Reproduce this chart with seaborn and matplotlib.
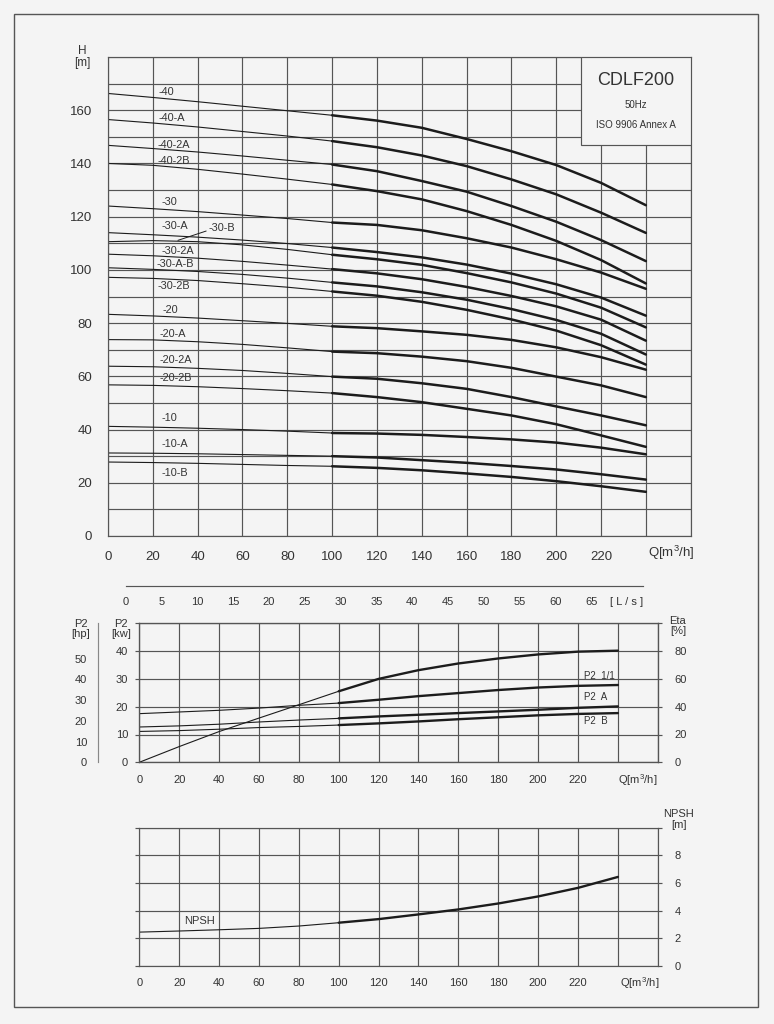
import numpy as np
import pandas as pd
import matplotlib
matplotlib.use("Agg")
import matplotlib.pyplot as plt
import seaborn as sns
from matplotlib.patches import Rectangle

# flow points (m3/h) shared by all curves; thin part 0-100, thick part 100-240
q_flow = [0, 20, 40, 60, 80, 100, 120, 140, 160, 180, 200, 220, 240]

# head curves H [m]
h40 = [166.3, 164.8, 163.2, 161.5, 159.8, 158.1, 156.1, 153.4, 149.2, 144.6, 139.4, 132.7, 124.3]
h40a = [156.5, 155.2, 153.7, 152.0, 150.3, 148.4, 146.1, 143.0, 139.0, 134.0, 128.4, 121.5, 113.9]
h40_2a = [146.8, 145.6, 144.3, 142.8, 141.2, 139.6, 137.1, 133.4, 129.4, 124.0, 118.1, 111.2, 103.3]
h40_2b = [140.0, 139.3, 137.8, 136.0, 134.1, 132.1, 129.6, 126.5, 122.1, 116.9, 110.9, 103.7, 94.9]
h30 = [124.0, 123.0, 121.9, 120.6, 119.3, 117.8, 116.9, 114.9, 111.9, 108.4, 104.0, 99.0, 92.9]
h30a = [114.0, 113.2, 112.3, 111.2, 109.9, 108.4, 106.7, 104.7, 102.0, 98.6, 94.6, 89.6, 82.8]
h30b = [110.6, 111.0, 110.6, 109.4, 107.7, 105.7, 104.0, 101.9, 98.8, 95.3, 91.1, 85.8, 78.4]
h30_2a = [105.9, 105.3, 104.4, 103.2, 101.8, 100.3, 98.7, 96.5, 93.6, 90.2, 86.3, 81.3, 73.4]
h30ab = [100.8, 100.2, 99.4, 98.3, 96.9, 95.3, 93.8, 91.6, 88.8, 85.3, 81.2, 76.0, 68.2]
h30_2b = [97.2, 96.8, 96.0, 94.8, 93.5, 91.9, 90.3, 88.0, 85.0, 81.4, 77.2, 71.7, 64.4]
h20 = [83.3, 82.7, 81.9, 80.9, 79.9, 78.8, 78.1, 76.9, 75.6, 73.7, 70.9, 67.2, 62.5]
h20a = [73.8, 73.7, 73.0, 72.0, 70.7, 69.3, 68.7, 67.4, 65.7, 63.2, 59.9, 56.6, 52.2]
h20_2a = [63.8, 63.6, 63.0, 62.2, 61.1, 59.9, 59.1, 57.4, 55.3, 52.2, 48.7, 45.3, 41.6]
h20_2b = [56.8, 56.6, 56.1, 55.4, 54.6, 53.7, 52.2, 50.3, 47.8, 45.3, 42.0, 37.8, 33.5]
h10 = [41.2, 40.9, 40.5, 40.0, 39.4, 38.7, 38.5, 38.0, 37.2, 36.3, 35.1, 33.2, 30.7]
h10a = [31.2, 31.1, 30.9, 30.6, 30.3, 30.0, 29.5, 28.5, 27.5, 26.3, 25.0, 23.2, 21.2]
h10b = [27.8, 27.6, 27.3, 26.9, 26.5, 26.2, 25.6, 24.7, 23.5, 22.2, 20.6, 18.7, 16.6]

head_curves = [h40, h40a, h40_2a, h40_2b, h30, h30a, h30b, h30_2a, h30ab, h30_2b,
               h20, h20a, h20_2a, h20_2b, h10, h10a, h10b]
head_names = ["-40", "-40-A", "-40-2A", "-40-2B", "-30", "-30-A", "-30-B", "-30-2A",
              "-30-A-B", "-30-2B", "-20", "-20-A", "-20-2A", "-20-2B", "-10", "-10-A", "-10-B"]

# power P2 [kW] and efficiency [%]
p2_full = [17.5, 18.1, 18.7, 19.5, 20.5, 21.3, 22.5, 23.8, 24.9, 26.0, 26.9, 27.5, 27.8]
p2_a = [12.7, 13.1, 13.7, 14.5, 15.2, 15.8, 16.5, 17.1, 17.7, 18.3, 18.9, 19.6, 20.1]
p2_b = [11.1, 11.4, 11.9, 12.5, 12.9, 13.4, 14.0, 14.7, 15.5, 16.2, 16.9, 17.4, 17.7]
eta = [0.0, 11.3, 22.1, 31.8, 41.4, 51.1, 60.0, 66.3, 71.1, 74.7, 77.6, 79.6, 80.3]
power_names = ["P2  1/1", "P2  A", "P2  B"]

# NPSH [m]
npsh = [2.45, 2.53, 2.62, 2.72, 2.89, 3.13, 3.39, 3.73, 4.09, 4.52, 5.03, 5.65, 6.44]

BG = "#f4f4f4"
INK = "#1c1c1c"
GRID = "#555555"
TXT = "#333333"
W, H = 774, 1024

sns.set_theme(style="white")
plt.rcParams["font.family"] = ["Liberation Sans", "DejaVu Sans"]
plt.rcParams["mathtext.fontset"] = "custom"
plt.rcParams["mathtext.rm"] = "Liberation Sans"

fig = plt.figure(figsize=(W / 100, H / 100), dpi=100, facecolor=BG)


def fx(px):
    return px / W


def fy(py):
    return 1 - py / H


def draw_curve(ax, values, thin=0.8, thick=1.8):
    lo = pd.DataFrame({"Q": q_flow[:6], "v": values[:6]})
    hi = pd.DataFrame({"Q": q_flow[5:], "v": values[5:]})
    sns.lineplot(data=lo, x="Q", y="v", ax=ax, color=INK, lw=thin, legend=False)
    sns.lineplot(data=hi, x="Q", y="v", ax=ax, color=INK, lw=thick, legend=False)


def style_grid(ax, xmax, ymax, ystep, lab_step, ylab_max, fs, ticklen=4):
    ax.set_facecolor(BG)
    ax.set_xlim(0, xmax)
    ax.set_ylim(0, ymax)
    xt = list(range(0, xmax + 1, 20))
    ax.set_xticks(xt, [str(v) if v <= 220 else "" for v in xt])
    yt = list(np.arange(0, ymax + 0.001, ystep))
    ax.set_yticks(yt, [f"{v:g}" if (v <= ylab_max and round(v / lab_step, 6) % 1 == 0)
                       else "" for v in yt])
    ax.grid(True, color=GRID, lw=0.85)
    ax.set_axisbelow(True)
    for s in ax.spines.values():
        s.set_color(GRID)
        s.set_linewidth(0.85)
    ax.tick_params(direction="out", length=ticklen, width=0.85, color=GRID,
                   labelsize=fs, labelcolor=TXT)
    ax.set_xlabel("")
    ax.set_ylabel("")


# ---------------- head chart ----------------
ax_h = fig.add_axes([fx(108), fy(536), fx(690.7) - fx(108), fy(57) - fy(536)])
for vals in head_curves:
    draw_curve(ax_h, vals)
style_grid(ax_h, 260, 180, 10, 20, 160, 9.5, ticklen=4.5)
ax_h.tick_params(axis="x", pad=6)
ax_h.tick_params(axis="y", pad=7)

label_pos = [(22.5, 166.9), (22.5, 156.9), (22.0, 147.1), (22.0, 140.9), (24.0, 125.5),
             (24.0, 116.5), (44.8, 115.7), (24.0, 107.2), (21.7, 102.2), (22.0, 94.0),
             (24.4, 85.0), (22.9, 75.9), (22.9, 66.2), (22.9, 59.3), (24.0, 44.5),
             (24.0, 34.7), (24.0, 23.7)]
for name, (lx, ly) in zip(head_names, label_pos):
    ax_h.text(lx, ly, name, fontsize=7.8, color=TXT, ha="left", va="center")
ax_h.plot([31.2, 43.8], [111.1, 114.6], color=INK, lw=0.7)

ax_h.add_patch(Rectangle((211, 146.9), 49, 33.1, facecolor=BG, edgecolor=GRID,
                         lw=0.85, zorder=5))
ax_h.text(235.6, 171.1, "CDLF200", fontsize=13, color=TXT, ha="center", va="center", zorder=6)
ax_h.text(235.6, 162.1, "50Hz", fontsize=7, color=TXT, ha="center", va="center", zorder=6)
ax_h.text(235.6, 154.4, "ISO 9906 Annex A", fontsize=7, color=TXT, ha="center",
          va="center", zorder=6)

fig.text(fx(82), fy(57), "H\n[m]", fontsize=8.5, color=TXT, ha="center", va="center",
         linespacing=1.1)
fig.text(fx(648), fy(553), "Q[m$^3$/h]", fontsize=9.5, color=TXT, ha="left", va="center")

# ---------------- L/s scale ----------------
ax_ls = fig.add_axes([fx(125.7), fy(585.7), fx(643.3) - fx(125.7), 0.0001])
ax_ls.set_facecolor("none")
ax_ls.set_xlim(0, (643.3 - 125.7) / 7.16)
ls_ticks = list(range(0, 71, 5))
ax_ls.set_xticks(ls_ticks, [str(v) for v in ls_ticks[:-1]] + ["[ L / s ]"])
ax_ls.set_yticks([])
for side in ["left", "right", "top"]:
    ax_ls.spines[side].set_visible(False)
ax_ls.spines["bottom"].set_color(GRID)
ax_ls.spines["bottom"].set_linewidth(0.85)
ax_ls.tick_params(axis="x", direction="out", length=3, width=0.85, color=GRID,
                  labelsize=8, labelcolor=TXT, pad=5)

# ---------------- power / efficiency chart ----------------
ax_p = fig.add_axes([fx(139.3), fy(762.3), fx(657.8) - fx(139.3), fy(623.3) - fy(762.3)])
for vals in [p2_full, p2_a, p2_b]:
    draw_curve(ax_p, vals, thick=1.7)
style_grid(ax_p, 260, 50, 10, 10, 40, 8, ticklen=3)
ax_p.tick_params(axis="x", pad=6)
ax_p.tick_params(axis="y", pad=5)
for name, ly in zip(power_names, [31.0, 23.5, 14.7]):
    ax_p.text(223, ly, name, fontsize=7, color=TXT, ha="left", va="center")

ax_e = ax_p.twinx()
draw_curve(ax_e, eta, thick=1.7)
ax_e.set_ylim(0, 100)
ax_e.set_yticks(list(range(0, 101, 20)), [str(v) for v in range(0, 81, 20)] + [""])
ax_e.set_ylabel("")
ax_e.set_xlabel("")
for s in ax_e.spines.values():
    s.set_color(GRID)
    s.set_linewidth(0.85)
ax_e.tick_params(direction="out", length=3, width=0.85, color=GRID, labelsize=8,
                 labelcolor=TXT, pad=9)

ax_hp = fig.add_axes([fx(98.3), fy(762.3), 0.0001, fy(623.3) - fy(762.3)])
ax_hp.set_facecolor("none")
ax_hp.set_ylim(0, 50 / 0.7457)
ax_hp.set_yticks(list(range(0, 51, 10)))
ax_hp.set_xticks([])
for side in ["right", "top", "bottom"]:
    ax_hp.spines[side].set_visible(False)
ax_hp.spines["left"].set_color("#888888")
ax_hp.spines["left"].set_linewidth(0.85)
ax_hp.tick_params(axis="y", direction="out", length=4, width=0.85, color="#888888",
                  labelsize=8, labelcolor=TXT, pad=4)

fig.text(fx(81), fy(629), "P2\n[hp]", fontsize=8, color=TXT, ha="center", va="center",
         linespacing=1.1)
fig.text(fx(121), fy(629), "P2\n[kw]", fontsize=8, color=TXT, ha="center", va="center",
         linespacing=1.1)
fig.text(fx(678), fy(626), "Eta\n[%]", fontsize=8, color=TXT, ha="center", va="center",
         linespacing=1.1)
fig.text(fx(618), fy(780), "Q[m$^3$/h]", fontsize=8, color=TXT, ha="left", va="center")

# ---------------- NPSH chart ----------------
ax_n = fig.add_axes([fx(139.3), fy(966), fx(657.8) - fx(139.3), fy(827.7) - fy(966)])
draw_curve(ax_n, npsh, thick=1.7)
style_grid(ax_n, 260, 10, 2, 2, 8, 8, ticklen=3)
ax_n.tick_params(axis="y", left=True, right=True, labelleft=False, labelright=True, pad=9)
ax_n.tick_params(axis="x", pad=6)
ax_n.text(30.4, 3.27, "NPSH", fontsize=8, color=TXT, ha="center", va="center")

fig.text(fx(679), fy(819.5), "NPSH\n[m]", fontsize=8, color=TXT, ha="center",
         va="center", linespacing=1.1)
fig.text(fx(620), fy(983), "Q[m$^3$/h]", fontsize=8, color=TXT, ha="left", va="center")

# outer frame
fig.patches.append(Rectangle((fx(14), fy(1007)), fx(758) - fx(14), fy(14) - fy(1007),
                             transform=fig.transFigure, fill=False, edgecolor="#555555",
                             lw=1.0))

fig.savefig("out.png", dpi=100, facecolor=BG)
